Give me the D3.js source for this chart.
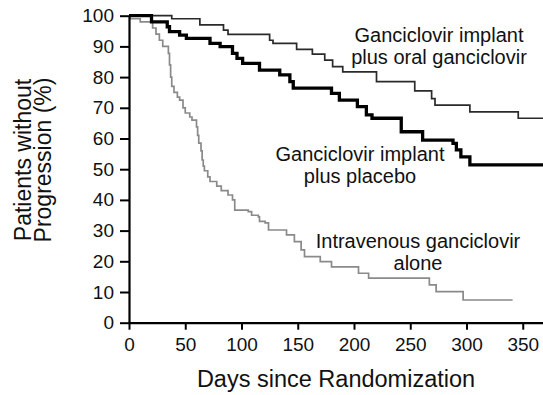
<!DOCTYPE html>
<html>
<head>
<meta charset="utf-8">
<script src="https://cdn.jsdelivr.net/npm/d3@7/dist/d3.min.js"></script>
<style>
  html, body { margin: 0; padding: 0; background: #fff; }
  svg { display: block; font-family: "Liberation Sans", Arial, Helvetica, sans-serif; }
</style>
</head>
<body>
<svg id="chart" width="543" height="395"></svg>
<script>
// ---- Data ----
const xTicks = [0, 50, 100, 150, 200, 250, 300, 350];
const yTicks = [0, 10, 20, 30, 40, 50, 60, 70, 80, 90, 100];

// Ganciclovir implant plus oral ganciclovir
const oralDays = [0, 38, 63, 84, 88, 125, 128, 149, 163, 174, 181, 190, 220, 254, 269, 272, 303, 346, 368];
const oralPct  = [100, 99, 97, 95.3, 93.9, 92, 91, 89, 87.5, 85.5, 83.4, 81.7, 78.5, 75.5, 73, 70.9, 68.7, 66.6, 66.6];

// Ganciclovir implant plus placebo
const placeboDays = [0, 20, 34, 36, 45, 51, 72, 81, 92, 96, 101, 116, 134, 143, 146, 180, 187, 203, 211, 216, 242, 261, 288, 291, 295, 303, 368];
const placeboPct  = [100, 98, 96.4, 94.8, 93.7, 92.6, 91, 89.9, 87.7, 86.1, 84.5, 82.3, 80.7, 78.5, 76.4, 74.7, 72.5, 70.4, 67.7, 66.6, 62.2, 59.5, 58.4, 56.3, 54, 51.4, 51.4];

// Intravenous ganciclovir alone
const ivDays = [0, 1, 10, 21, 24, 27, 30, 35, 36, 37, 38, 40, 43, 45, 48, 50, 54, 56, 60, 61, 62, 64, 65, 66, 67, 70, 72, 78, 82, 88, 92, 94, 106, 109, 115, 116, 121, 124, 140, 147, 153, 156, 170, 180, 204, 213, 267, 273, 297, 341];
const ivPct  = [100, 99, 98, 96, 94, 92, 90, 87.7, 84, 80, 77, 75, 73.5, 72.5, 70, 68.3, 67, 66, 63.8, 61, 58.5, 56, 53, 51, 49.5, 47.5, 46, 44.5, 43, 41.6, 40, 36.7, 36.2, 35, 34.5, 33, 32.5, 30.2, 28.6, 26.4, 23.7, 21.5, 19.9, 18.2, 16.1, 14.5, 12.3, 10.1, 7.4, 7.4];

const seriesLabels = {
  oral: ["Ganciclovir implant", "plus oral ganciclovir"],
  placebo: ["Ganciclovir implant", "plus placebo"],
  iv: ["Intravenous ganciclovir", "alone"]
};
const xTitle = "Days since Randomization";
const yTitle = ["Patients without", "Progression (%)"];

// ---- Chart ----
const svg = d3.select("#chart");
const x = d3.scaleLinear().domain([0, 368]).range([129, 543]);
const y = d3.scaleLinear().domain([0, 100]).range([322.7, 15.7]);

const zip = (a, b) => a.map((d, i) => [d, b[i]]);
const line = d3.line().x(d => x(d[0])).y(d => y(d[1])).curve(d3.curveStepAfter);

const series = [
  { key: "iv", data: zip(ivDays, ivPct), color: "#8a8a8a", width: 1.7 },
  { key: "oral", data: zip(oralDays, oralPct), color: "#2a2a2a", width: 1.7 },
  { key: "placebo", data: zip(placeboDays, placeboPct), color: "#000", width: 3.3 }
];

svg.append("g").selectAll("path").data(series).join("path")
  .attr("fill", "none")
  .attr("stroke", d => d.color)
  .attr("stroke-width", d => d.width)
  .attr("stroke-linejoin", "miter")
  .attr("d", d => line(d.data));

// axes
const xAxis = svg.append("g")
  .attr("transform", `translate(0,${y(0)})`)
  .call(d3.axisBottom(x).tickValues(xTicks).tickSize(7).tickPadding(8).tickSizeOuter(0));
const yAxis = svg.append("g")
  .attr("transform", `translate(${x(0)},0)`)
  .call(d3.axisLeft(y).tickValues(yTicks).tickSize(9).tickPadding(6).tickSizeOuter(0));

[xAxis, yAxis].forEach(g => {
  g.select(".domain").attr("stroke", "#000").attr("stroke-width", 2.2);
  g.selectAll(".tick line").attr("stroke", "#000").attr("stroke-width", 2);
  g.selectAll(".tick text").attr("fill", "#111").style("font-size", "19px")
    .style("font-family", "'Liberation Sans', Arial, sans-serif");
});

// axis titles
svg.append("text")
  .attr("x", 336).attr("y", 387)
  .attr("text-anchor", "middle")
  .style("font-size", "23.5px").attr("fill", "#111")
  .text(xTitle);

const yt = svg.append("text")
  .attr("transform", "translate(0,160) rotate(-90)")
  .attr("text-anchor", "middle")
  .style("font-size", "23px").attr("fill", "#111");
yt.append("tspan").attr("x", 0).attr("y", 31).text(yTitle[0]);
yt.append("tspan").attr("x", 0).attr("y", 51).text(yTitle[1]);

// annotations
const ann = [
  { lines: seriesLabels.oral, x: 439, y: 42 },
  { lines: seriesLabels.placebo, x: 360, y: 161 },
  { lines: seriesLabels.iv, x: 418, y: 248 }
];
ann.forEach(a => {
  const t = svg.append("text").attr("text-anchor", "middle")
    .style("font-size", "20px").attr("fill", "#111");
  a.lines.forEach((s, i) => t.append("tspan").attr("x", a.x).attr("y", a.y + i * 21.5).text(s));
});
</script>
</body>
</html>
